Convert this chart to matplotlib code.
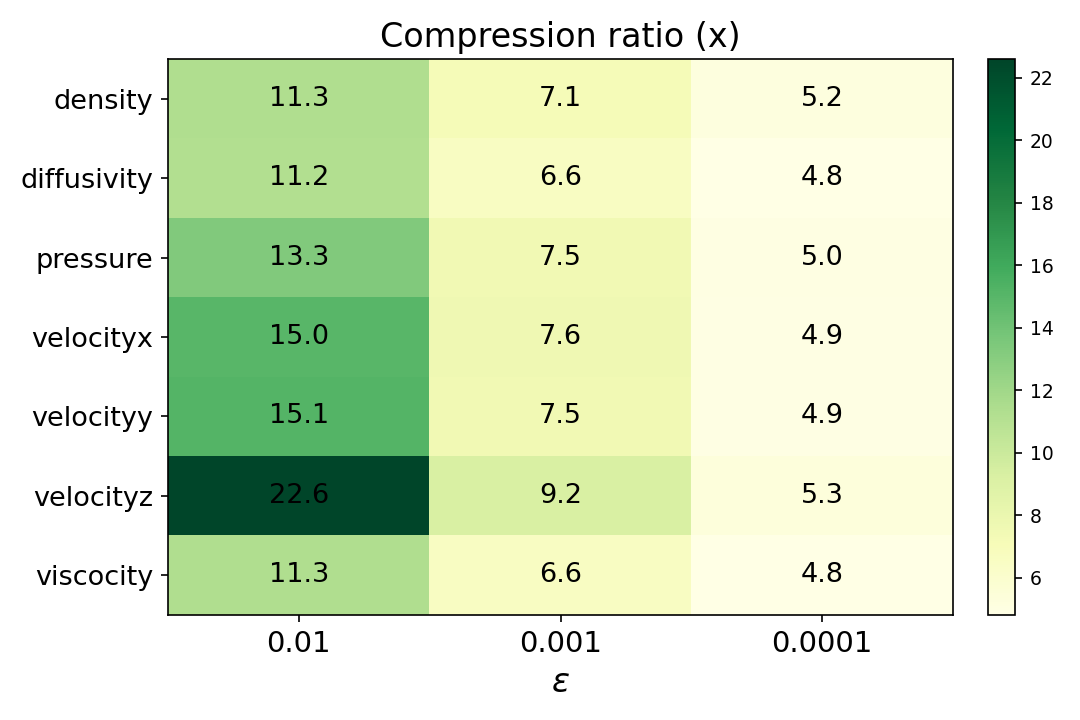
import matplotlib
matplotlib.use("Agg")
import matplotlib.pyplot as plt
import numpy as np

fields = ["density", "diffusivity", "pressure", "velocityx", "velocityy", "velocityz", "viscocity"]
eps_labels = ["0.01", "0.001", "0.0001"]
ratio = np.array([
    [11.3, 7.1, 5.2],
    [11.2, 6.6, 4.8],
    [13.3, 7.5, 5.0],
    [15.0, 7.6, 4.9],
    [15.1, 7.5, 4.9],
    [22.6, 9.2, 5.3],
    [11.3, 6.6, 4.8],
])

fig = plt.figure(figsize=(7.2, 4.8), dpi=150)
ax = fig.add_axes([168/1080, 1 - 615/720, (953-168)/1080, (615-59)/720])
cax = fig.add_axes([988/1080, 1 - 615/720, (1015-988)/1080, (615-59)/720])

im = ax.imshow(ratio, cmap="YlGn", aspect="auto")
for i in range(ratio.shape[0]):
    for j in range(ratio.shape[1]):
        ax.text(j, i, "%.1f" % ratio[i, j], ha="center", va="center", color="black", fontsize=13)

ax.set_xticks(range(len(eps_labels)))
ax.set_xticklabels(eps_labels, fontsize=14)
ax.set_yticks(range(len(fields)))
ax.set_yticklabels(fields, fontsize=13)
ax.set_xlabel(r"$\epsilon$", fontsize=16)
ax.set_title("Compression ratio (x)", fontsize=16)

cb = fig.colorbar(im, cax=cax)
cb.ax.tick_params(labelsize=9)

fig.savefig("out.png", dpi=150)
